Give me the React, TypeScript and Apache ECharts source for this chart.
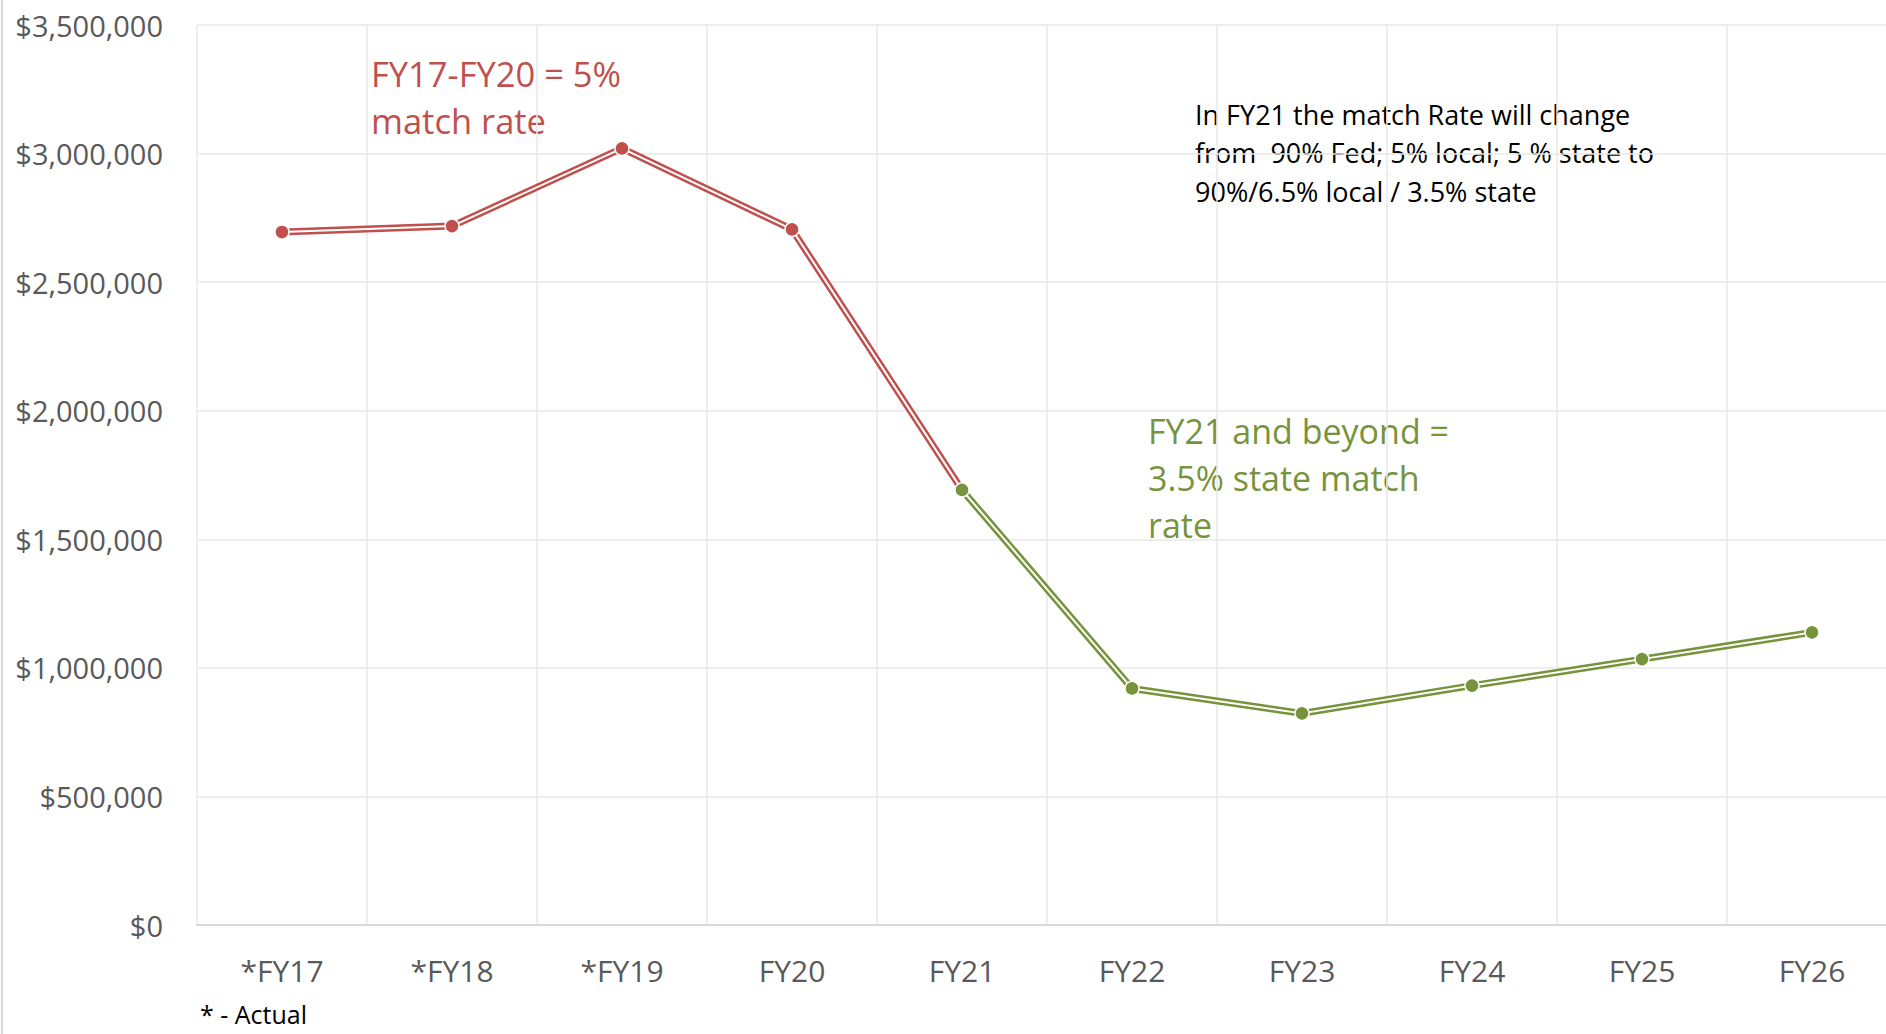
import React, { useEffect, useRef } from "react";
import * as echarts from "echarts";

const categories = ["*FY17", "*FY18", "*FY19", "FY20", "FY21", "FY22", "FY23", "FY24", "FY25", "FY26"];
const stateMatch = [2695000, 2718000, 3020000, 2705000, 1692000, 920000, 823000, 931000, 1034000, 1138000];
const redCount = 5; // FY17..FY21 (line segment), markers FY17..FY20
const greenStart = 4; // FY21 onward
const yMax = 3500000;
const yInterval = 500000;

const redNote = "FY17-FY20 = 5%\nmatch rate";
const greenNote = "FY21 and beyond =\n3.5% state match\nrate";
const blackNote = "In FY21 the match Rate will change\nfrom  90% Fed; 5% local; 5 % state to\n90%/6.5% local / 3.5% state";
const footNote = "* - Actual";

const RED = "#C0504D";
const GREEN = "#77933C";
const FONT = "'Open Sans', 'Noto Sans', sans-serif";

export default function App() {
  const ref = useRef<HTMLDivElement>(null);
  useEffect(() => {
    if (!ref.current) return;
    const chart = echarts.init(ref.current, undefined, { renderer: "svg" });

    const redOuter = stateMatch.map((v, i) => (i < redCount ? v : "-"));
    const redInner = stateMatch.map((v, i) =>
      i < redCount ? (i === redCount - 1 ? { value: v, symbol: "none" } : v) : "-"
    );
    const greenData = stateMatch.map((v, i) => (i >= greenStart ? v : "-"));

    const outer = (name: string, data: any[], color: string, z: number) => ({
      name,
      type: "line",
      data,
      z,
      showSymbol: false,
      symbol: "none",
      lineStyle: { color, width: 7 },
      itemStyle: { color },
    });
    const inner = (name: string, data: any[], color: string, z: number) => ({
      name,
      type: "line",
      data,
      z,
      symbol: "circle",
      symbolSize: 14,
      showAllSymbol: true,
      lineStyle: { color: "#ffffff", width: 2 },
      itemStyle: { color, borderColor: "#ffffff", borderWidth: 1.5 },
    });

    chart.setOption({
      animation: false,
      grid: { left: 197, top: 25, width: 1700, height: 900 },
      xAxis: {
        type: "category",
        data: categories,
        boundaryGap: true,
        axisLine: { show: true, lineStyle: { color: "#d9d9d9", width: 2 } },
        axisTick: { show: false },
        axisLabel: { interval: 0, margin: 30, fontSize: 30, color: "#595959", fontFamily: FONT },
        splitLine: { show: true, interval: 0, lineStyle: { color: "#e8e8e8", width: 1.5 } },
      },
      yAxis: {
        type: "value",
        min: 0,
        max: yMax,
        interval: yInterval,
        axisLine: { show: false },
        axisTick: { show: false },
        axisLabel: {
          margin: 34,
          fontSize: 29,
          color: "#595959",
          fontFamily: FONT,
          formatter: (v: number) => "$" + v.toLocaleString("en-US"),
        },
        splitLine: { show: true, lineStyle: { color: "#e8e8e8", width: 1.5 } },
      },
      series: [
        outer("redOuter", redOuter, RED, 2),
        inner("redInner", redInner, RED, 3),
        outer("greenOuter", greenData, GREEN, 4),
        inner("greenInner", greenData, GREEN, 5),
      ],
      graphic: [
        { type: "line", shape: { x1: 2, y1: 0, x2: 2, y2: 1034 }, style: { stroke: "#d9d9d9", lineWidth: 2 } },
        {
          type: "text",
          x: 371,
          y: 50,
          style: { text: redNote, fill: RED, font: `34.5px ${FONT}`, lineHeight: 47, verticalAlign: "top" },
        },
        {
          type: "text",
          x: 1148,
          y: 407,
          style: { text: greenNote, fill: GREEN, font: `34px ${FONT}`, lineHeight: 47, verticalAlign: "top" },
        },
        {
          type: "text",
          x: 1195,
          y: 95,
          style: { text: blackNote, fill: "#000000", font: `27px ${FONT}`, lineHeight: 38.5, verticalAlign: "top" },
        },
        {
          type: "text",
          x: 200,
          y: 1014,
          style: { text: footNote, fill: "#000000", font: `25px ${FONT}`, lineHeight: 25, verticalAlign: "middle" },
        },
      ],
    });
    return () => chart.dispose();
  }, []);
  return (
    <div style={{ position: "fixed", left: 0, top: 0, width: 1886, height: 1034, overflow: "hidden", background: "#ffffff" }}>
      <div ref={ref} style={{ width: 1910, height: 1034 }} />
    </div>
  );
}
